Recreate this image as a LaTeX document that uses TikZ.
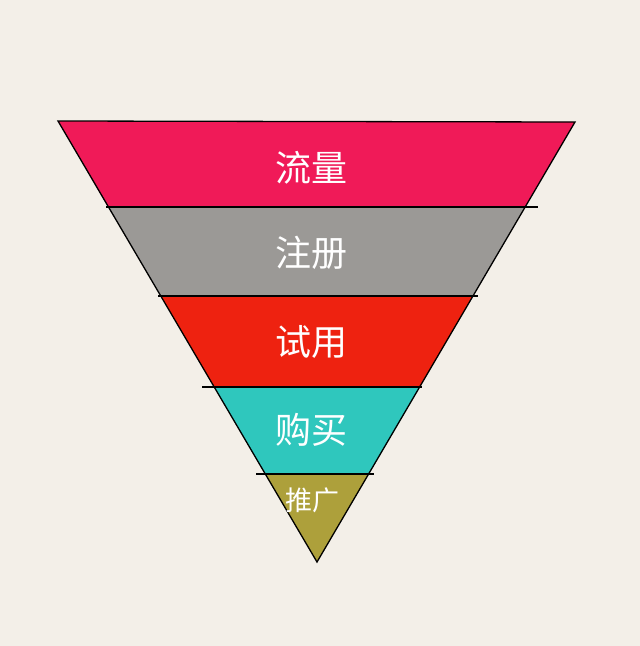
\documentclass[tikz,border=0pt]{standalone}
\usepackage{fontspec}
\newfontfamily\cjk{Noto Sans CJK SC}
\definecolor{paper}{HTML}{F3EFE8}
\definecolor{bandA}{HTML}{F01A58}
\definecolor{bandB}{HTML}{9B9996}
\definecolor{bandC}{HTML}{EE2210}
\definecolor{bandD}{HTML}{2FC7BD}
\definecolor{bandE}{HTML}{ADA03B}
\tikzset{
    label/.style={text=white,font=\cjk\fontsize{36}{38}\selectfont},
    edge/.style={black,line width=1.3pt}
}
\begin{document}
\begin{tikzpicture}[x=1pt,y=-1pt]
                \fill[paper] (0,0) rectangle (640,646);
                \useasboundingbox (0,0) rectangle (640,646);
                \coordinate (TL) at (58,121);
                \coordinate (TR) at (575,122);
                \coordinate (V) at (317,562);
                \coordinate (L1) at (108,207);
                \coordinate (R1) at (525,207);
                \coordinate (L2) at (161,296);
                \coordinate (R2) at (473,296);
                \coordinate (L3) at (214,387);
                \coordinate (R3) at (420,387);
                \coordinate (L4) at (265,474);
                \coordinate (R4) at (369,474);

                \fill[bandA] (TL) -- (TR) -- (R1) -- (L1) -- cycle;
                \fill[bandB] (L1) -- (R1) -- (R2) -- (L2) -- cycle;
                \fill[bandC] (L2) -- (R2) -- (R3) -- (L3) -- cycle;
                \fill[bandD] (L3) -- (R3) -- (R4) -- (L4) -- cycle;
                \fill[bandE] (L4) -- (R4) -- (V) -- cycle;

                \draw[edge] (TL) -- (TR) -- (V) -- cycle;
                \draw[edge] ([xshift=-2]L1) -- ([xshift=13]R1);
                \draw[edge] ([xshift=-3]L2) -- ([xshift=5]R2);
                \draw[edge] ([xshift=-12]L3) -- ([xshift=2]R3);
                \draw[edge] ([xshift=-9]L4) -- ([xshift=5]R4);

                \node[label] (liu) at (311,168) {流量};
                \node[label] (zhu) at (311,253) {注册};
                \node[label] (shi) at (311,342) {试用};
                \node[label] (gou) at (311,430) {购买};
                \node[label,font=\cjk\fontsize{27}{29}\selectfont] (tui) at (312,500) {推广};
            \end{tikzpicture}
\end{document}
